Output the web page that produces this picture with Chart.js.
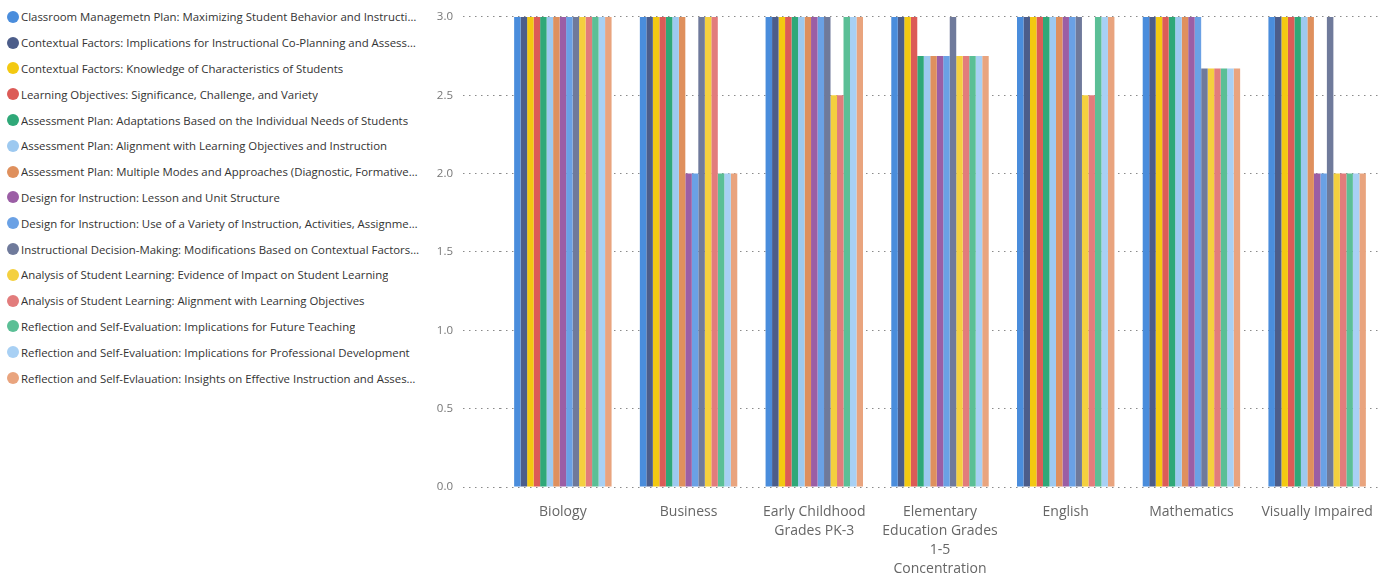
<!DOCTYPE html>
<html>
<head>
<meta charset="utf-8">
<script src="https://cdn.jsdelivr.net/npm/chart.js@4.4.1/dist/chart.umd.min.js"></script>
<style>
  html, body { margin: 0; padding: 0; background: #fff; }
  body { width: 1383px; height: 577px; position: relative; overflow: hidden; font-family: 'Open Sans', sans-serif; }
  #legend { position: absolute; left: 7px; top: 4px; width: 413px; }
  .item { display: flex; align-items: center; height: 25.8px; font-size: 11.4px; color: #333; }
  .dot { width: 12px; height: 12px; border-radius: 50%; flex: 0 0 12px; margin-right: 2px; }
  .txt { white-space: nowrap; overflow: hidden; text-overflow: ellipsis; }
  #wrap { position: absolute; left: 420px; top: 0; width: 963px; height: 577px; }
</style>
</head>
<body>
<div id="legend"></div>
<div id="wrap"><canvas id="chart"></canvas></div>
<script>
const categories = [
  'Biology',
  'Business',
  ['Early Childhood', 'Grades PK-3'],
  ['Elementary', 'Education Grades', '1-5', 'Concentration'],
  'English',
  'Mathematics',
  'Visually Impaired'
];

const seriesNames = [
  'Classroom Managemetn Plan: Maximizing Student Behavior and Instructional Time',
  'Contextual Factors: Implications for Instructional Co-Planning and Assessment',
  'Contextual Factors: Knowledge of Characteristics of Students',
  'Learning Objectives: Significance, Challenge, and Variety',
  'Assessment Plan: Adaptations Based on the Individual Needs of Students',
  'Assessment Plan: Alignment with Learning Objectives and Instruction',
  'Assessment Plan: Multiple Modes and Approaches (Diagnostic, Formative, Summative)',
  'Design for Instruction: Lesson and Unit Structure',
  'Design for Instruction: Use of a Variety of Instruction, Activities, Assignments and Resources',
  'Instructional Decision-Making: Modifications Based on Contextual Factors and Student Learning',
  'Analysis of Student Learning: Evidence of Impact on Student Learning',
  'Analysis of Student Learning: Alignment with Learning Objectives',
  'Reflection and Self-Evaluation: Implications for Future Teaching',
  'Reflection and Self-Evaluation: Implications for Professional Development',
  'Reflection and Self-Evlauation: Insights on Effective Instruction and Assessment'
];

const seriesColors = [
  '#4a8ddc', '#4c5d8a', '#f3c911', '#dc5b57', '#2fa878',
  '#9dc9f0', '#df905d', '#9b5ea5', '#6aa1e5', '#6f7a9b',
  '#f4d03f', '#e27c7c', '#5bbf96', '#a8d0f4', '#e9a47e'
];

// values per category: Biology, Business, Early Childhood, Elementary, English, Mathematics, Visually Impaired
const s1  = [3, 3, 3,   3,    3,   3,    3];
const s2  = [3, 3, 3,   3,    3,   3,    3];
const s3  = [3, 3, 3,   3,    3,   3,    3];
const s4  = [3, 3, 3,   3,    3,   3,    3];
const s5  = [3, 3, 3,   2.75, 3,   3,    3];
const s6  = [3, 3, 3,   2.75, 3,   3,    3];
const s7  = [3, 3, 3,   2.75, 3,   3,    3];
const s8  = [3, 2, 3,   2.75, 3,   3,    2];
const s9  = [3, 2, 3,   2.75, 3,   3,    2];
const s10 = [3, 3, 3,   3,    3,   2.67, 3];
const s11 = [3, 3, 2.5, 2.75, 2.5, 2.67, 2];
const s12 = [3, 3, 2.5, 2.75, 2.5, 2.67, 2];
const s13 = [3, 2, 3,   2.75, 3,   2.67, 2];
const s14 = [3, 2, 3,   2.75, 3,   2.67, 2];
const s15 = [3, 2, 3,   2.75, 3,   2.67, 2];
const seriesValues = [s1, s2, s3, s4, s5, s6, s7, s8, s9, s10, s11, s12, s13, s14, s15];

const yTicks = [0, 0.5, 1, 1.5, 2, 2.5, 3];

// legend a la izquierda
const legendEl = document.getElementById('legend');
seriesNames.forEach((name, i) => {
  const row = document.createElement('div');
  row.className = 'item';
  row.innerHTML = `<span class="dot" style="background:${seriesColors[i]}"></span><span class="txt"></span>`;
  row.querySelector('.txt').textContent = name;
  legendEl.appendChild(row);
});

const font = 'Open Sans';
const dots = [1.5, 4.5];

new Chart(document.getElementById('chart'), {
  type: 'bar',
  data: {
    labels: categories,
    datasets: seriesNames.map((name, i) => ({
      label: name,
      data: seriesValues[i],
      backgroundColor: seriesColors[i],
      borderWidth: 0,
      barPercentage: 1,
      categoryPercentage: 0.775
    }))
  },
  options: {
    responsive: true,
    maintainAspectRatio: false,
    animation: false,
    layout: { padding: { top: 15, right: 3, bottom: 0, left: 0 } },
    plugins: {
      legend: { display: false },
      tooltip: { enabled: false }
    },
    scales: {
      x: {
        afterFit: (scale) => { scale.height = 90; },
        // marcas invisibles: solo empujan las etiquetas hacia abajo
        grid: { display: false, drawTicks: true, tickLength: 16 },
        border: { display: false },
        ticks: {
          color: '#666',
          font: { family: font, size: 14, lineHeight: 19 / 14 },
          padding: 0,
          maxRotation: 0,
          autoSkip: false
        }
      },
      y: {
        min: 0,
        max: 3,
        afterFit: (scale) => { scale.width = 80; },
        afterBuildTicks: (scale) => { scale.ticks = yTicks.map(v => ({ value: v })); },
        border: { display: false, dash: dots },
        grid: {
          color: '#8a8a8a',
          lineWidth: 1,
          tickLength: 37,
          tickColor: '#8a8a8a',
          tickBorderDash: dots
        },
        ticks: {
          color: '#777',
          font: { family: font, size: 11.5 },
          padding: 10,
          callback: (v) => Number(v).toFixed(1)
        }
      }
    }
  }
});
</script>
</body>
</html>
